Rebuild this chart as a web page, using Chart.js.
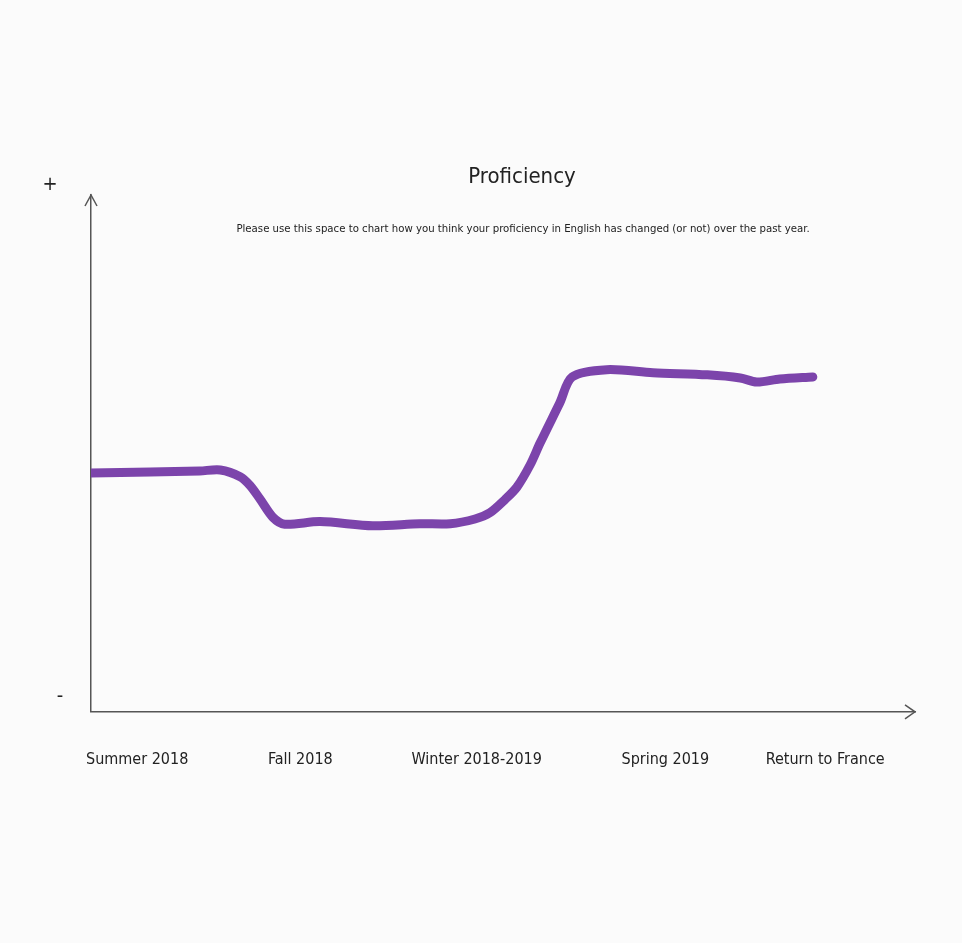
<!DOCTYPE html>
<html>
<head>
<meta charset="utf-8">
<script src="https://cdn.jsdelivr.net/npm/chart.js@4.4.1/dist/chart.umd.min.js"></script>
<style>
  html, body { margin: 0; padding: 0; background: #fbfbfb; }
  #wrap { width: 962px; height: 943px; position: relative; }
</style>
</head>
<body>
<div id="wrap"><canvas id="chart"></canvas></div>
<script>
// Périodes (axe horizontal) et leur position sur l'axe (0-100)
const periodLabels = ["Summer 2018", "Fall 2018", "Winter 2018-2019", "Spring 2019", "Return to France"];
const periodPositions = [5.6, 25.4, 46.8, 69.7, 89.1];

// Tracé à main levée : position sur l'axe du temps et niveau (0 = "-", 100 = "+")
const timeValues = [0, 7.2, 13.2, 15.7, 18.1, 19.3, 20.5, 22.1, 23.5, 27.8, 34.2, 39.9, 43.6, 46.6, 48.4, 50.2, 51.7, 53.3, 54.5, 56.9, 58.4, 62.6, 68.2, 74.8, 78.8, 80.8, 83.6, 87.6];
const proficiencyValues = [46.2, 46.4, 46.6, 46.8, 45.5, 43.8, 41.2, 37.6, 36.3, 36.8, 36.0, 36.4, 36.4, 37.3, 38.5, 41.0, 43.5, 47.8, 52.0, 59.8, 64.8, 66.2, 65.6, 65.2, 64.6, 63.8, 64.4, 64.8];

// Repères de l'axe vertical
const levelMarks = [{ text: "+", value: 101.9, x: 50 }, { text: "-", value: 2.9, x: 60 }];

const chartTitle = "Proficiency";
const chartSubtitle = "Please use this space to chart how you think your proficiency in English has changed (or not) over the past year.";

const fontFamily = "'DejaVu Sans Condensed', 'Open Sans', sans-serif";
const axisColor = "#555";

const points = timeValues.map((t, i) => ({ x: t, y: proficiencyValues[i] }));

// Flèches, titres et repères +/-
const decorPlugin = {
  id: "decor",
  afterDraw(chart) {
    const { ctx, scales } = chart;
    const xs = scales.x, ys = scales.y;
    ctx.save();
    ctx.strokeStyle = axisColor;
    ctx.lineWidth = 1.5;
    const xEnd = xs.right, yBase = ys.bottom;
    ctx.beginPath();
    ctx.moveTo(xEnd - 10, yBase - 7);
    ctx.lineTo(xEnd, yBase);
    ctx.lineTo(xEnd - 10, yBase + 7);
    ctx.stroke();
    const yTop = ys.top, xLeft = xs.left;
    ctx.beginPath();
    ctx.moveTo(xLeft - 6, yTop + 11);
    ctx.lineTo(xLeft, yTop);
    ctx.lineTo(xLeft + 6, yTop + 11);
    ctx.stroke();

    ctx.fillStyle = "#222";
    ctx.textAlign = "center";
    ctx.textBaseline = "middle";
    ctx.font = "22px " + fontFamily;
    ctx.fillText(chartTitle, 522, 177);
    ctx.font = "11.3px " + fontFamily;
    ctx.fillText(chartSubtitle, 523, 229);

    ctx.font = "20px " + fontFamily;
    levelMarks.forEach(m => {
      ctx.fillText(m.text, m.x, ys.getPixelForValue(m.value));
    });
    ctx.restore();
  }
};

new Chart(document.getElementById("chart").getContext("2d"), {
  type: "line",
  data: {
    datasets: [
      {
        label: chartTitle,
        data: points,
        borderColor: "#7c44ab",
        borderWidth: 9,
        pointRadius: 0,
        tension: 0.3,
        borderCapStyle: "round",
        borderJoinStyle: "round",
        fill: false
      }
    ]
  },
  options: {
    responsive: true,
    maintainAspectRatio: false,
    animation: false,
    layout: { padding: { left: 83, right: 47, top: 195, bottom: 144 } },
    plugins: { legend: { display: false }, tooltip: { enabled: false } },
    scales: {
      x: {
        type: "linear",
        min: 0,
        max: 100,
        grid: { display: false },
        border: { display: true, color: axisColor, width: 1.5 },
        afterBuildTicks: axis => { axis.ticks = periodPositions.map(v => ({ value: v })); },
        ticks: {
          padding: 30,
          color: "#222",
          font: { family: fontFamily, size: 16 },
          maxRotation: 0,
          autoSkip: false,
          callback: (v, i) => periodLabels[i]
        }
      },
      y: {
        min: 0,
        max: 100,
        grid: { display: false },
        border: { display: true, color: axisColor, width: 1.5 },
        ticks: { display: false }
      }
    }
  },
  plugins: [decorPlugin]
});
</script>
</body>
</html>
